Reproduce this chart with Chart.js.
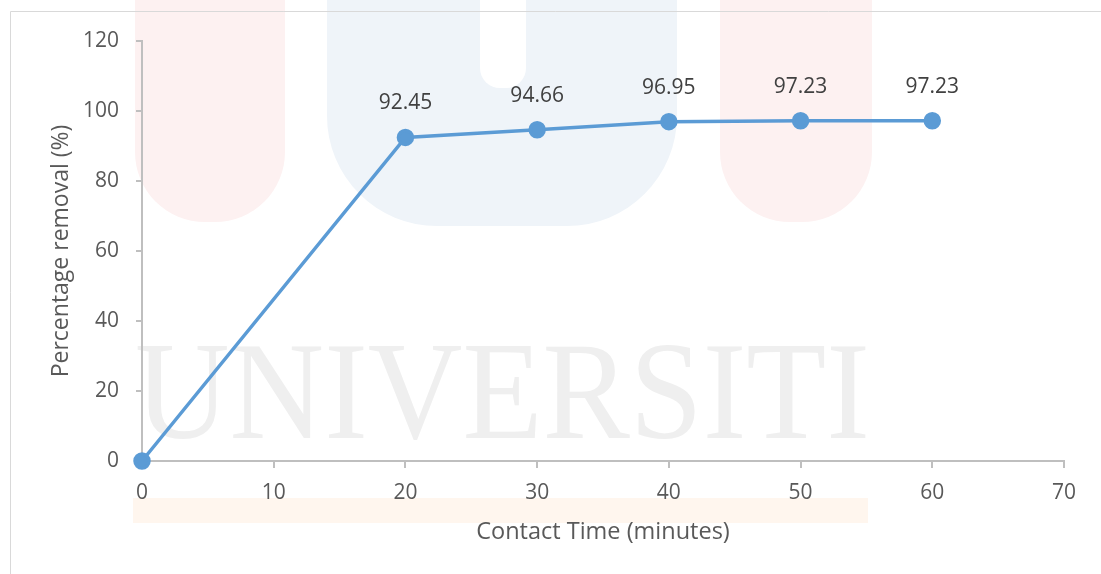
<!DOCTYPE html>
<html>
<head>
<meta charset="utf-8">
<script src="https://cdn.jsdelivr.net/npm/chart.js@4.4.1/dist/chart.umd.min.js"></script>
<style>
  html, body { margin: 0; padding: 0; background: #ffffff; }
  #wrap { width: 1101px; height: 574px; position: relative; }
</style>
</head>
<body>
<div id="wrap"><canvas id="removalChart"></canvas></div>
<script>
// Contact time (minutes) vs percentage removal
const contactTime = [0, 20, 30, 40, 50, 60];
const removal = [0, 92.45, 94.66, 96.95, 97.23, 97.23];
const xTicks = [0, 10, 20, 30, 40, 50, 60, 70];
const yTicks = [0, 20, 40, 60, 80, 100, 120];

const FONT = "'Open Sans', 'Noto Sans', sans-serif";
const AXIS_GREY = '#bfbfbf';

// faint background stamp + outer frame
const backdrop = {
    id: 'backdrop',
    beforeDraw(chart) {
        const c = chart.ctx;
        c.save();
        c.fillStyle = '#fdf1f1';
        c.beginPath(); c.roundRect(135, -80, 150, 302, 70); c.fill();
        c.beginPath(); c.roundRect(720, -80, 152, 302, 70); c.fill();
        c.fillStyle = '#eff4f9';
        c.beginPath(); c.roundRect(327, -120, 350, 346, 110); c.fill();
        c.fillStyle = '#ffffff';
        c.beginPath(); c.roundRect(480, -40, 46, 128, 20); c.fill();
        c.fillStyle = '#fff6ee';
        c.fillRect(133, 498, 735, 25);
        c.fillStyle = '#efefef';
        c.font = "140px 'Liberation Serif', serif";
        c.textBaseline = 'alphabetic';
        c.fillText('UNIVERSITI', 135, 438, 735);
        c.strokeStyle = '#d9d9d9';
        c.lineWidth = 1;
        c.beginPath();
        c.moveTo(10.5, 574); c.lineTo(10.5, 11.5); c.lineTo(1101, 11.5);
        c.stroke();
        c.restore();
    }
};

// value text above each non-zero point
const valueLabels = {
    id: 'valueLabels',
    afterDatasetsDraw(chart) {
        const c = chart.ctx;
        const meta = chart.getDatasetMeta(0);
        c.save();
        c.font = '21px ' + FONT;
        c.fillStyle = '#404040';
        c.textAlign = 'center';
        c.textBaseline = 'middle';
        meta.data.forEach((pt, i) => {
            if (removal[i] === 0) return;
            c.fillText(removal[i].toFixed(2), pt.x, pt.y - 34);
        });
        c.restore();
    }
};

const ctx = document.getElementById('removalChart').getContext('2d');
const removalChart = new Chart(ctx, {
    type: 'line',
    data: {
        datasets: [{
            label: 'Percentage removal',
            data: contactTime.map((t, i) => ({ x: t, y: removal[i] })),
            borderColor: '#5b9bd5',
            backgroundColor: '#5b9bd5',
            borderWidth: 3.5,
            pointRadius: 7,
            pointHoverRadius: 7,
            tension: 0,
            clip: false
        }]
    },
    options: {
        responsive: true,
        maintainAspectRatio: false,
        animation: false,
        layout: { padding: { left: 0, right: 37, top: 41, bottom: 0 } },
        plugins: {
            legend: { display: false },
            tooltip: { enabled: false }
        },
        scales: {
            x: {
                type: 'linear',
                min: 0,
                max: 70,
                afterBuildTicks: s => { s.ticks = xTicks.map(v => ({ value: v })); },
                afterFit: s => { s.height = 113; },
                border: { color: AXIS_GREY, width: 2 },
                grid: { drawOnChartArea: false, color: AXIS_GREY, tickLength: 7, lineWidth: 2 },
                ticks: { color: '#595959', font: { family: FONT, size: 21 }, padding: 12 },
                title: {
                    display: true,
                    text: 'Contact Time (minutes)',
                    color: '#595959',
                    font: { family: FONT, size: 23.5 },
                    padding: { top: 0, bottom: 28 }
                }
            },
            y: {
                min: 0,
                max: 120,
                afterBuildTicks: s => { s.ticks = yTicks.map(v => ({ value: v })); },
                afterFit: s => { s.width = 142; },
                border: { color: AXIS_GREY, width: 2 },
                grid: { drawOnChartArea: false, color: AXIS_GREY, tickLength: 6, lineWidth: 2 },
                ticks: { color: '#595959', font: { family: FONT, size: 21 }, padding: 17 },
                title: {
                    display: true,
                    text: 'Percentage removal (%)',
                    color: '#595959',
                    font: { family: FONT, size: 23 },
                    padding: { top: 48, bottom: 0 }
                }
            }
        }
    },
    plugins: [backdrop, valueLabels]
});
</script>
</body>
</html>
